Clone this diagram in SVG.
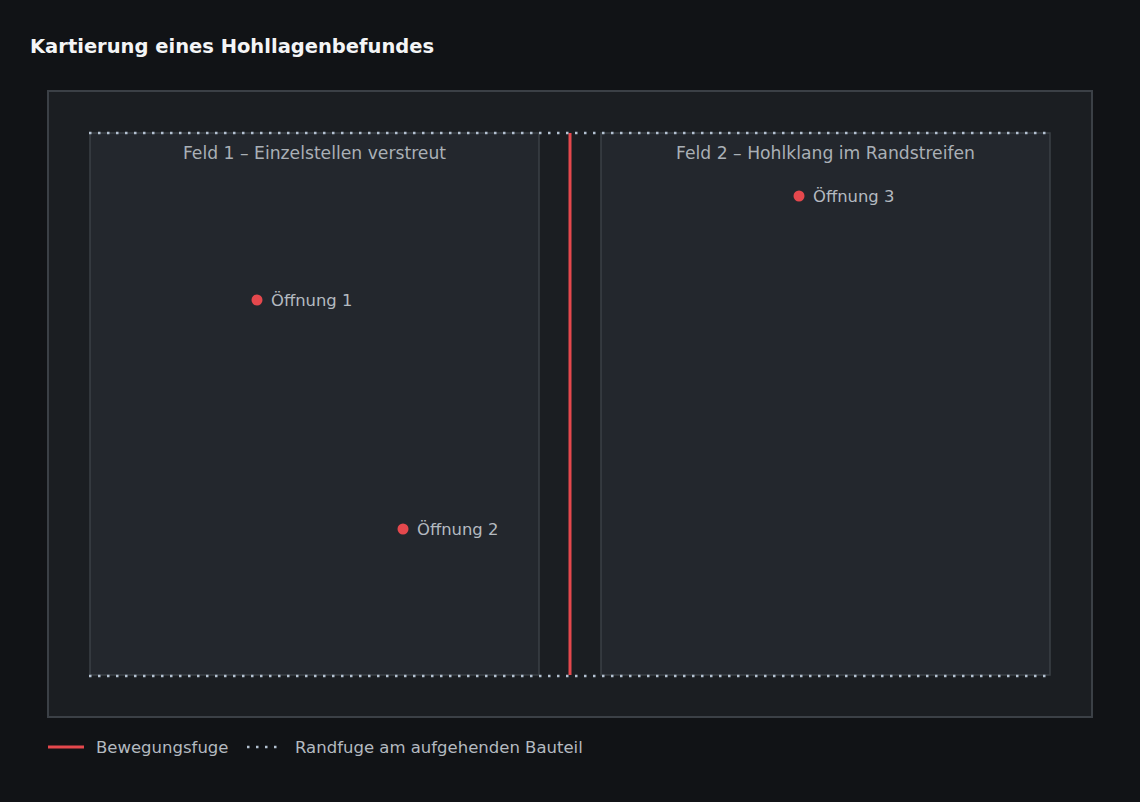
<svg xmlns="http://www.w3.org/2000/svg" width="1140" height="802" viewBox="0 0 1140 802">
<style>
.t{font-family:"DejaVu Sans","Liberation Sans",sans-serif}
.title{font-size:19.5px;font-weight:bold;fill:#f4f5f6}
.lbl{font-size:16.4px;fill:#b4bac0}
.flbl{font-size:17.2px;fill:#aab0b6}
.leg{font-size:16.5px;fill:#b4bac0}
.field{fill:#23272d;stroke:#3b4046;stroke-width:1.5}
.hole{fill:#e5484d}
.dot{stroke:#b4c2d2;stroke-width:2.5;stroke-dasharray:2.5 6.5;fill:none}
.move{stroke:#e5484d;stroke-width:3;fill:none}
</style>
<rect width="1140" height="802" fill="#111316"/>
<text class="t title" x="30" y="53">Kartierung eines Hohllagenbefundes</text>
<rect x="48" y="91" width="1044" height="626" fill="#1b1e22" stroke="#3b4046" stroke-width="2"/>
<g id="feld1">
<rect class="field" x="90" y="133" width="449" height="542"/>
<text class="t flbl" x="314.5" y="159" text-anchor="middle">Feld 1 – Einzelstellen verstreut</text>
</g>
<g id="feld2">
<rect class="field" x="601" y="133" width="449" height="542"/>
<text class="t flbl" x="825.5" y="159" text-anchor="middle">Feld 2 – Hohlklang im Randstreifen</text>
</g>
<g id="oeffnung1"><circle class="hole" cx="257" cy="300" r="5.5"/><text class="t lbl" x="271" y="306">Öffnung 1</text></g>
<g id="oeffnung2"><circle class="hole" cx="403" cy="529" r="5.5"/><text class="t lbl" x="417" y="535">Öffnung 2</text></g>
<g id="oeffnung3"><circle class="hole" cx="799" cy="196" r="5.5"/><text class="t lbl" x="813" y="202">Öffnung 3</text></g>
<g id="connectors">
<line class="move" x1="570" y1="133" x2="570" y2="675"/>
<line class="dot" x1="89" y1="133" x2="1050" y2="133"/>
<line class="dot" x1="89" y1="676" x2="1050" y2="676"/>
</g>
<g id="legend">
<line class="move" x1="48" y1="747" x2="84" y2="747"/>
<text class="t leg" x="96" y="753">Bewegungsfuge</text>
<line class="dot" x1="247" y1="747" x2="280" y2="747"/>
<text class="t leg" x="295" y="753">Randfuge am aufgehenden Bauteil</text>
</g>
</svg>
